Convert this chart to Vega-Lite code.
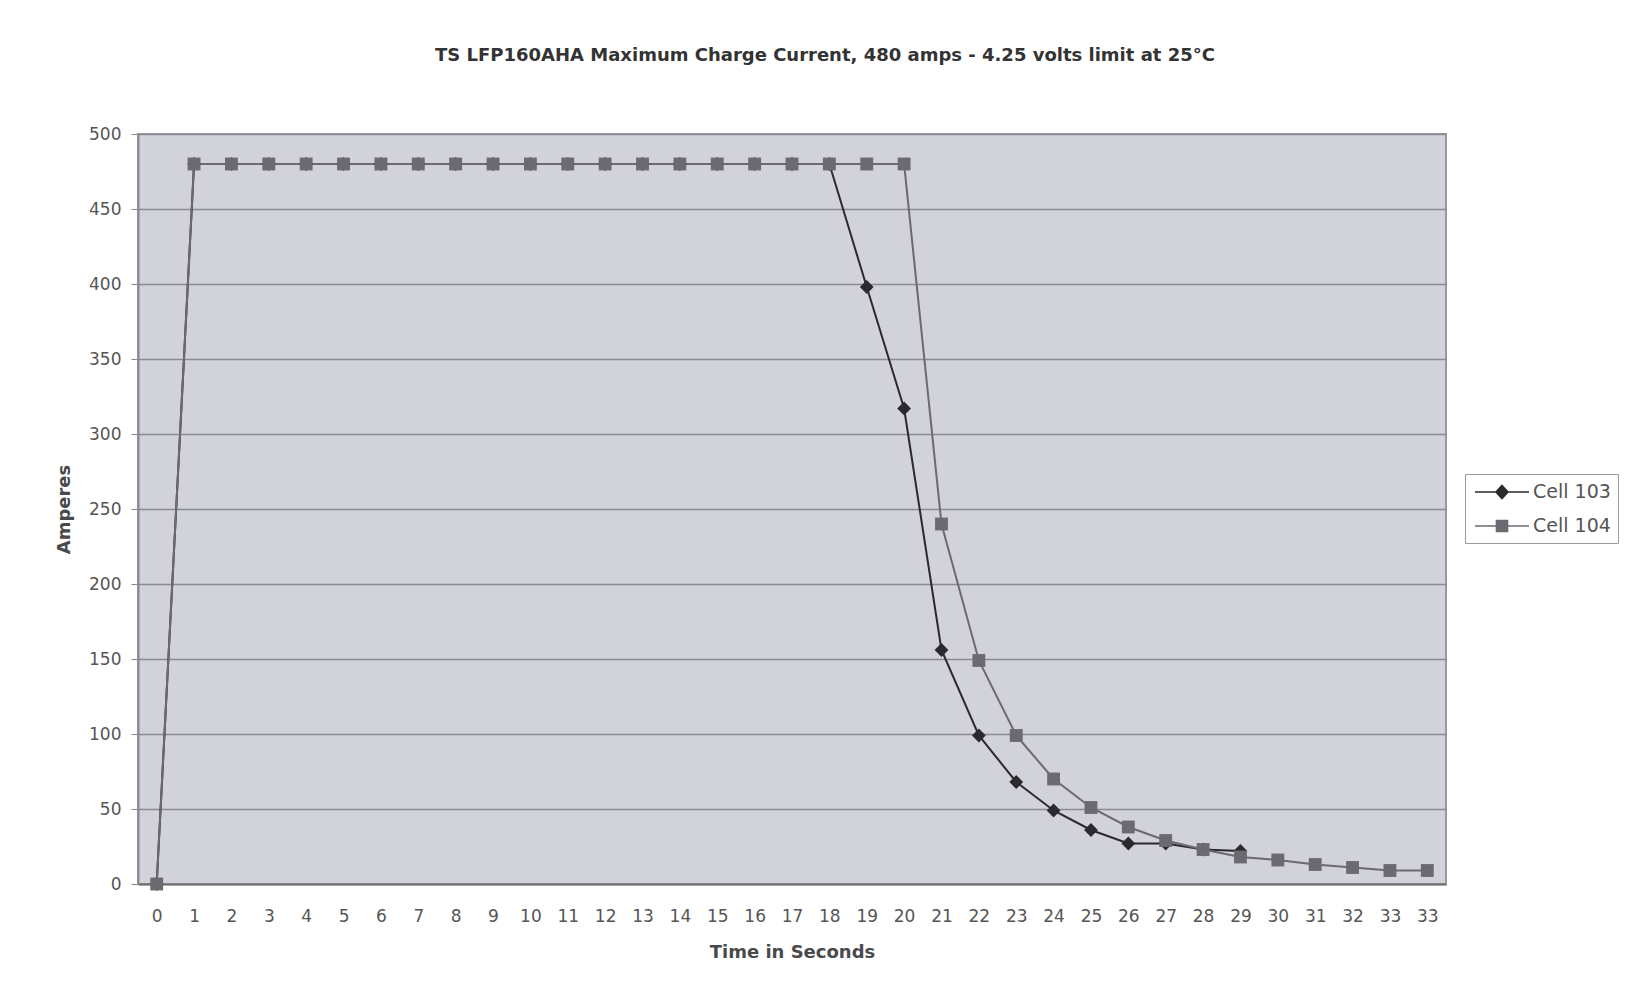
{
  "$schema": "https://vega.github.io/schema/vega-lite/v6.json",
  "width": 1308,
  "height": 750,
  "autosize": {"type": "none"},
  "padding": {"left": 138, "top": 134, "right": 182, "bottom": 115},
  "background": "white",
  "title": {
    "text": "TS LFP160AHA Maximum Charge Current, 480 amps - 4.25 volts limit at 25°C",
    "font": "DejaVu Sans",
    "fontSize": 18,
    "fontWeight": "bold",
    "color": "#333333",
    "offset": 60,
    "dx": 33
  },
  "config": {
    "view": {"fill": "#d1d2da", "stroke": "#9a9a9a", "strokeWidth": 2},
    "axis": {
      "labelFont": "DejaVu Sans",
      "labelFontSize": 17,
      "labelColor": "#555555",
      "titleFont": "DejaVu Sans",
      "titleFontWeight": "bold",
      "titleFontSize": 18,
      "titleColor": "#4a4a4a"
    },
    "legend": {
      "title": null,
      "orient": "none",
      "legendX": 1327,
      "legendY": 340,
      "padding": 7,
      "strokeColor": "#9a9a9a",
      "fillColor": "white",
      "symbolSize": 400,
      "symbolOffset": 19,
      "symbolStrokeWidth": 1.6,
      "labelFont": "DejaVu Sans",
      "labelFontSize": 19,
      "labelColor": "#555555",
      "labelOffset": 20,
      "rowPadding": 13
    }
  },
  "data": {
    "values": [
      {"series": "Cell 103", "t": 0, "amps": 0},
      {"series": "Cell 103", "t": 1, "amps": 480},
      {"series": "Cell 103", "t": 2, "amps": 480},
      {"series": "Cell 103", "t": 3, "amps": 480},
      {"series": "Cell 103", "t": 4, "amps": 480},
      {"series": "Cell 103", "t": 5, "amps": 480},
      {"series": "Cell 103", "t": 6, "amps": 480},
      {"series": "Cell 103", "t": 7, "amps": 480},
      {"series": "Cell 103", "t": 8, "amps": 480},
      {"series": "Cell 103", "t": 9, "amps": 480},
      {"series": "Cell 103", "t": 10, "amps": 480},
      {"series": "Cell 103", "t": 11, "amps": 480},
      {"series": "Cell 103", "t": 12, "amps": 480},
      {"series": "Cell 103", "t": 13, "amps": 480},
      {"series": "Cell 103", "t": 14, "amps": 480},
      {"series": "Cell 103", "t": 15, "amps": 480},
      {"series": "Cell 103", "t": 16, "amps": 480},
      {"series": "Cell 103", "t": 17, "amps": 480},
      {"series": "Cell 103", "t": 18, "amps": 480},
      {"series": "Cell 103", "t": 19, "amps": 398},
      {"series": "Cell 103", "t": 20, "amps": 317},
      {"series": "Cell 103", "t": 21, "amps": 156},
      {"series": "Cell 103", "t": 22, "amps": 99},
      {"series": "Cell 103", "t": 23, "amps": 68},
      {"series": "Cell 103", "t": 24, "amps": 49},
      {"series": "Cell 103", "t": 25, "amps": 36},
      {"series": "Cell 103", "t": 26, "amps": 27},
      {"series": "Cell 103", "t": 27, "amps": 27},
      {"series": "Cell 103", "t": 28, "amps": 23},
      {"series": "Cell 103", "t": 29, "amps": 22},
      {"series": "Cell 104", "t": 0, "amps": 0},
      {"series": "Cell 104", "t": 1, "amps": 480},
      {"series": "Cell 104", "t": 2, "amps": 480},
      {"series": "Cell 104", "t": 3, "amps": 480},
      {"series": "Cell 104", "t": 4, "amps": 480},
      {"series": "Cell 104", "t": 5, "amps": 480},
      {"series": "Cell 104", "t": 6, "amps": 480},
      {"series": "Cell 104", "t": 7, "amps": 480},
      {"series": "Cell 104", "t": 8, "amps": 480},
      {"series": "Cell 104", "t": 9, "amps": 480},
      {"series": "Cell 104", "t": 10, "amps": 480},
      {"series": "Cell 104", "t": 11, "amps": 480},
      {"series": "Cell 104", "t": 12, "amps": 480},
      {"series": "Cell 104", "t": 13, "amps": 480},
      {"series": "Cell 104", "t": 14, "amps": 480},
      {"series": "Cell 104", "t": 15, "amps": 480},
      {"series": "Cell 104", "t": 16, "amps": 480},
      {"series": "Cell 104", "t": 17, "amps": 480},
      {"series": "Cell 104", "t": 18, "amps": 480},
      {"series": "Cell 104", "t": 19, "amps": 480},
      {"series": "Cell 104", "t": 20, "amps": 480},
      {"series": "Cell 104", "t": 21, "amps": 240},
      {"series": "Cell 104", "t": 22, "amps": 149},
      {"series": "Cell 104", "t": 23, "amps": 99},
      {"series": "Cell 104", "t": 24, "amps": 70},
      {"series": "Cell 104", "t": 25, "amps": 51},
      {"series": "Cell 104", "t": 26, "amps": 38},
      {"series": "Cell 104", "t": 27, "amps": 29},
      {"series": "Cell 104", "t": 28, "amps": 23},
      {"series": "Cell 104", "t": 29, "amps": 18},
      {"series": "Cell 104", "t": 30, "amps": 16},
      {"series": "Cell 104", "t": 31, "amps": 13},
      {"series": "Cell 104", "t": 32, "amps": 11},
      {"series": "Cell 104", "t": 33, "amps": 9},
      {"series": "Cell 104", "t": 34, "amps": 9}
    ]
  },
  "encoding": {
    "x": {
      "field": "t",
      "type": "ordinal",
      "sort": "ascending",
      "scale": {"type": "point", "padding": 0.5},
      "axis": {
        "title": "Time in Seconds",
        "labelAngle": 0,
        "labelExpr": "datum.value == 34 ? '33' : datum.label",
        "ticks": false,
        "labelPadding": 24,
        "titlePadding": 19,
        "domainColor": "#6e6e6e",
        "domainWidth": 2,
        "grid": false
      }
    },
    "y": {
      "field": "amps",
      "type": "quantitative",
      "scale": {"domain": [0, 500], "nice": false},
      "axis": {
        "title": "Amperes",
        "values": [0, 50, 100, 150, 200, 250, 300, 350, 400, 450, 500],
        "tickSize": 7,
        "tickColor": "#8a8a8a",
        "labelPadding": 10,
        "titlePadding": 15,
        "domainColor": "#8a8a8a",
        "domainWidth": 2,
        "grid": true,
        "gridColor": "#8a8a92",
        "gridWidth": 1.6
      }
    },
    "color": {
      "field": "series",
      "type": "nominal",
      "scale": {"domain": ["Cell 103", "Cell 104"], "range": ["#2a2a2e", "#6a6a70"]},
      "legend": {
        "encode": {
          "symbols": {
            "update": {
              "shape": {"signal": "datum.value == 'Cell 103' ? 'M-2.7,0H2.7M0,-0.65L0.6,0L0,0.65L-0.6,0Z' : 'M-2.7,0H2.7M-0.55,-0.55H0.55V0.55H-0.55Z'"},
              "fill": {"signal": "datum.value == 'Cell 103' ? '#2a2a2e' : '#6a6a70'"},
              "stroke": {"signal": "datum.value == 'Cell 103' ? '#2a2a2e' : '#6a6a70'"},
              "strokeWidth": {"value": 1.6},
              "opacity": {"value": 1}
            }
          }
        }
      }
    }
  },
  "layer": [
    {
      "mark": {"type": "line", "strokeWidth": 2},
      "encoding": {"detail": {"field": "series"}}
    },
    {
      "transform": [{"filter": "datum.series == 'Cell 103'"}],
      "mark": {"type": "point", "filled": true, "opacity": 1, "shape": "diamond", "size": 190}
    },
    {
      "transform": [{"filter": "datum.series == 'Cell 104'"}],
      "mark": {"type": "point", "filled": true, "opacity": 1, "shape": "square", "size": 165}
    }
  ]
}
